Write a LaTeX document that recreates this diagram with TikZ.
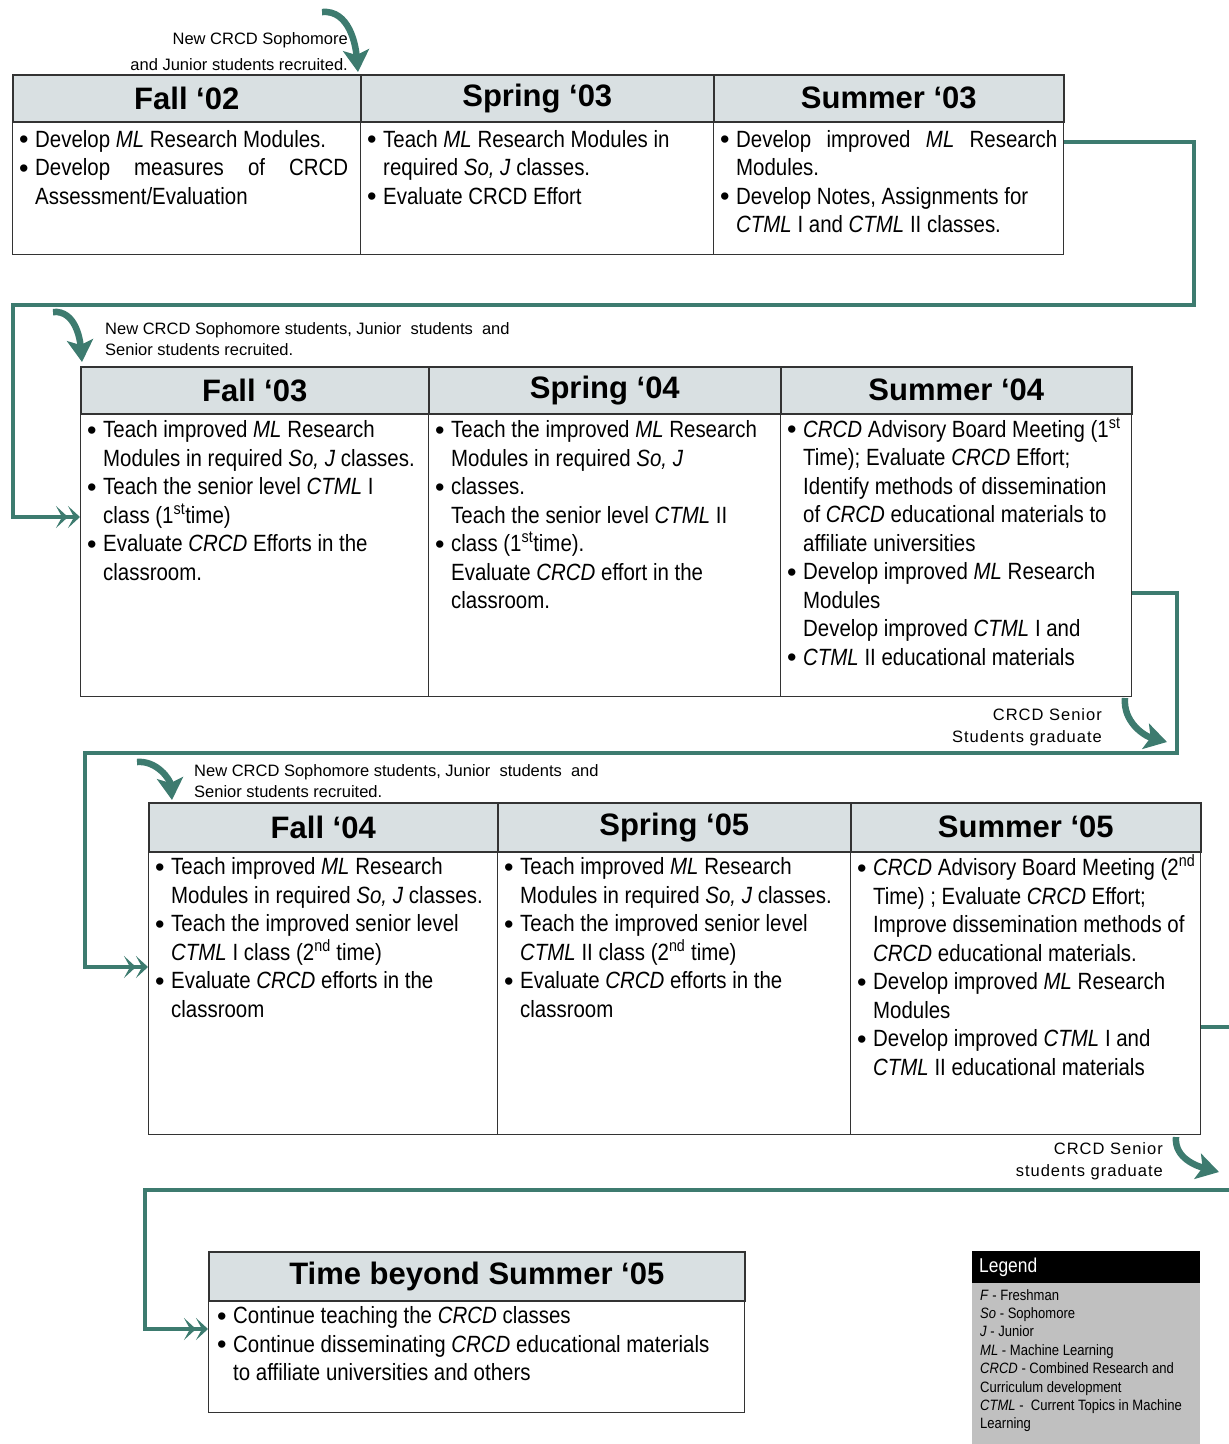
\documentclass[tikz,border=0pt]{standalone}
\usepackage{fontspec}
\setmainfont{Liberation Sans}[FakeStretch=0.87]
\newfontfamily\widefont{Liberation Sans}
\usetikzlibrary{arrows.meta,positioning,calc}
\definecolor{flow}{HTML}{3D7B6F}
\definecolor{hdfill}{HTML}{D9E0E2}
\definecolor{lgnd}{HTML}{C0C0C0}
\newcommand{\bl}{\makebox[16pt][l]{\raisebox{-1.5pt}{\widefont\fontsize{27}{27}\selectfont •}}}
\newcommand{\ind}{\hspace*{16pt}}

\begin{document}
\begin{tikzpicture}[x=1pt, y=1pt,
  hd/.style={draw=black!80, line width=1.6pt, fill=hdfill, anchor=north west, inner sep=0pt,
    font=\widefont\bfseries\fontsize{31}{31}\selectfont},
  bd/.style={draw=black!80, line width=1.3pt, anchor=north west, inner sep=0pt},
  tx/.style={anchor=north west, align=left, inner sep=0pt, font=\fontsize{23.5}{28.5}\selectfont},
  nt/.style={inner sep=0pt, font=\widefont\fontsize{16.5}{21}\selectfont},
  link/.style={draw=flow, line width=3.5pt,
    -{Stealth[length=12pt,width=22pt,inset=6pt]Stealth[length=12pt,width=22pt,inset=6pt]}},
  hook/.style={draw=flow, line width=6.5pt, -{Stealth[length=22pt,width=26pt,inset=5pt]}}]
  \useasboundingbox (0,0) rectangle (1229,-1444);

  % 2002-03
  \foreach \n/\x/\w/\t in {fa02/12/348/Fall ‘02, sp03/360/353/Spring ‘03, su03/713/350/Summer ‘03} {
    \node[hd, minimum width=\w pt, minimum height=47pt] (\n) at (\x,-74) {\t};
    \node[bd, minimum width=\w pt, minimum height=133pt] (\n-b) at (\x,-121) {};
  }
  \node[tx] (fa02-t) at ($(fa02-b.north west)+(7,-9)$) {\bl Develop \textit{ML} Research Modules.\\
    \bl\makebox[313pt][s]{Develop measures of CRCD}\\
    \ind Assessment/Evaluation};
  \node[tx] (sp03-t) at ($(sp03-b.north west)+(7,-9)$) {\bl Teach \textit{ML} Research Modules in\\
    \ind required \textit{So, J} classes.\\
    \bl Evaluate CRCD Effort};
  \node[tx] (su03-t) at ($(su03-b.north west)+(7,-9)$) {\bl\makebox[321pt][s]{Develop improved \textit{ML} Research}\\
    \ind Modules.\\
    \bl Develop Notes, Assignments for\\
    \ind \textit{CTML} I and \textit{CTML} II classes.};

  % 2003-04
  \foreach \n/\x/\w/\t in {fa03/80/348/Fall ‘03, sp04/428/352/Spring ‘04, su04/780/351/Summer ‘04} {
    \node[hd, minimum width=\w pt, minimum height=47pt] (\n) at (\x,-366) {\t};
    \node[bd, minimum width=\w pt, minimum height=283pt] (\n-b) at (\x,-413) {};
  }
  \node[tx] (fa03-t) at ($(fa03-b.north west)+(7,-7.5)$) {\bl Teach improved \textit{ML} Research\\
    \ind Modules in required \textit{So, J} classes.\\
    \bl Teach the senior level \textit{CTML} I\\
    \ind class (1\textsuperscript{st}time)\\
    \bl Evaluate \textit{CRCD} Efforts in the\\
    \ind classroom.};
  \node[tx] (sp04-t) at ($(sp04-b.north west)+(7,-7.5)$) {\bl Teach the improved \textit{ML} Research\\
    \ind Modules in required \textit{So, J}\\
    \bl classes.\\
    \ind Teach the senior level \textit{CTML} II\\
    \bl class (1\textsuperscript{st}time).\\
    \ind Evaluate \textit{CRCD} effort in the\\
    \ind classroom.};
  \node[tx] (su04-t) at ($(su04-b.north west)+(7,-4.5)$) {\bl \textit{CRCD} Advisory Board Meeting (1\textsuperscript{st}\\
    \ind Time); Evaluate \textit{CRCD} Effort;\\
    \ind Identify methods of dissemination\\
    \ind of \textit{CRCD} educational materials to\\
    \ind affiliate universities\\
    \bl Develop improved \textit{ML} Research\\
    \ind Modules\\
    \ind Develop improved \textit{CTML} I and\\
    \bl \textit{CTML} II educational materials};

  % 2004-05
  \foreach \n/\x/\w/\t in {fa04/148/349/Fall ‘04, sp05/497/353/Spring ‘05, su05/850/350/Summer ‘05} {
    \node[hd, minimum width=\w pt, minimum height=49pt] (\n) at (\x,-802) {\t};
    \node[bd, minimum width=\w pt, minimum height=283pt] (\n-b) at (\x,-851) {};
  }
  \node[tx] (fa04-t) at ($(fa04-b.north west)+(7,-6.5)$) {\bl Teach improved \textit{ML} Research\\
    \ind Modules in required \textit{So, J} classes.\\
    \bl Teach the improved senior level\\
    \ind \textit{CTML} I class (2\textsuperscript{nd} time)\\
    \bl Evaluate \textit{CRCD} efforts in the\\
    \ind classroom};
  \node[tx] (sp05-t) at ($(sp05-b.north west)+(7,-6.5)$) {\bl Teach improved \textit{ML} Research\\
    \ind Modules in required \textit{So, J} classes.\\
    \bl Teach the improved senior level\\
    \ind \textit{CTML} II class (2\textsuperscript{nd} time)\\
    \bl Evaluate \textit{CRCD} efforts in the\\
    \ind classroom};
  \node[tx] (su05-t) at ($(su05-b.north west)+(7,-3.5)$) {\bl \textit{CRCD} Advisory Board Meeting (2\textsuperscript{nd}\\
    \ind Time) ; Evaluate \textit{CRCD} Effort;\\
    \ind Improve dissemination methods of\\
    \ind \textit{CRCD} educational materials.\\
    \bl Develop improved \textit{ML} Research\\
    \ind Modules\\
    \bl Develop improved \textit{CTML} I and\\
    \ind \textit{CTML} II educational materials};

  % after summer 05
  \node[hd, minimum width=536pt, minimum height=49pt] (tb05) at (208,-1251) {Time beyond Summer ‘05};
  \node[bd, minimum width=536pt, minimum height=112pt] (tb05-b) at (208,-1300) {};
  \node[tx] (tb05-t) at ($(tb05-b.north west)+(9,-6.5)$) {\bl Continue teaching the \textit{CRCD} classes\\
    \bl Continue disseminating \textit{CRCD} educational materials\\
    \ind to affiliate universities and others};

  % notes
  \node[nt, align=right, anchor=north east, font=\widefont\fontsize{16.5}{26}\selectfont] (n1) at (348,-32) {New CRCD Sophomore\\and Junior students recruited.};
  \node[nt, align=left, anchor=north west] (n2) at (105,-322) {New CRCD Sophomore students, Junior\ \ students\ \ and\\Senior students recruited.};
  \node[nt, align=right, anchor=north east, font=\widefont\fontsize{16.5}{22}\selectfont\addfontfeatures{LetterSpace=6}] (n3) at (1102,-708) {CRCD Senior\\Students graduate};
  \node[nt, align=left, anchor=north west] (n4) at (194,-764) {New CRCD Sophomore students, Junior\ \ students\ \ and\\Senior students recruited.};
  \node[nt, align=right, anchor=north east, font=\widefont\fontsize{16.5}{22}\selectfont\addfontfeatures{LetterSpace=6}] (n5) at (1163,-1142) {CRCD Senior\\students graduate};

  % curved arrows
  \coordinate (h1s) at (322,-12);   \coordinate (h1e) at (358,-72);
  \coordinate (h2s) at (53,-312);   \coordinate (h2e) at (82,-362);
  \coordinate (h3s) at (1125,-698); \coordinate (h3e) at (1167,-742);
  \coordinate (h4s) at (137,-762);  \coordinate (h4e) at (172,-800);
  \coordinate (h5s) at (1176,-1137); \coordinate (h5e) at (1219,-1172);
  \draw[hook] (h1s) to[out=5,in=95] (h1e);
  \draw[hook] (h2s) to[out=5,in=95] (h2e);
  \draw[hook] (h3s) to[out=-95,in=165] (h3e);
  \draw[hook] (h4s) to[out=5,in=95] (h4e);
  \draw[hook] (h5s) to[out=-95,in=165] (h5e);

  % connectors
  \coordinate (r1) at (1194,-305);  \coordinate (l1) at (13,-305);
  \coordinate (r2) at (1177,-753);  \coordinate (l2) at (85,-753);
  \coordinate (r3) at (1240,-1190); \coordinate (l3) at (145,-1190);
  \draw[link] ($(su03-b.north east)+(0,-21)$) -| (r1) -- (l1) |- ($(fa03-b.north west)+(0,-104)$);
  \draw[link] ($(su04-b.north east)+(0,-180)$) -| (r2) -- (l2) |- ($(fa04-b.north west)+(0,-116)$);
  \draw[link] ($(su05-b.north east)+(0,-176)$) -| (r3) -- (l3) |- ($(tb05-b.north west)+(0,-29)$);

  % legend
  \node[fill=black, minimum width=228pt, minimum height=32pt, anchor=north west, inner sep=0pt] (lg) at (972,-1251) {};
  \node[anchor=west, inner sep=0pt, text=white, font=\fontsize{20}{20}\selectfont] (lg-h) at ($(lg.west)+(7,0)$) {Legend};
  \node[fill=lgnd, minimum width=228pt, minimum height=161pt, anchor=north west, inner sep=0pt] (lg-b) at (972,-1283) {};
  \node[anchor=north west, align=left, inner sep=0pt, font=\fontsize{15}{18.4}\selectfont] (lg-t) at (980,-1289) {\textit{F} - Freshman\\
    \textit{So} - Sophomore\\
    \textit{J} - Junior\\
    \textit{ML} - Machine Learning\\
    \textit{CRCD} - Combined Research and\\
    Curriculum development\\
    \textit{CTML} -\ \ Current Topics in Machine\\
    Learning};
\end{tikzpicture}
\end{document}
